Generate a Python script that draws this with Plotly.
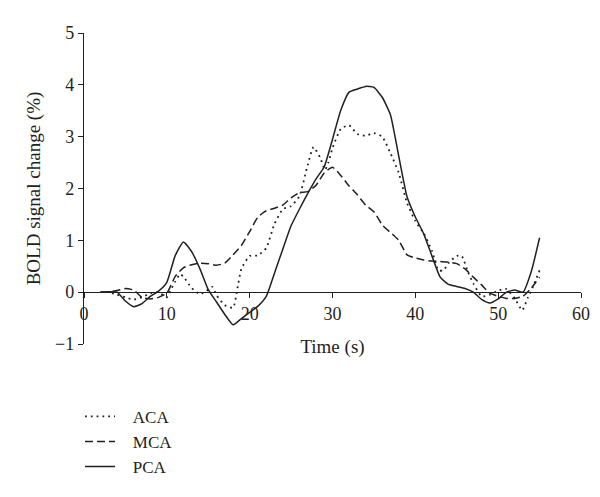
import plotly.graph_objects as go

# ---- data ----
pca_t = [2, 3, 4, 5, 6, 7, 8, 9, 10, 11, 12, 13, 14, 15, 16, 17, 18, 19, 20, 21, 22, 23, 24, 25,
         26, 27, 28, 29, 30, 31, 32, 33, 34, 35, 36, 37, 38, 39, 40, 41, 42, 43, 44, 45, 46, 47,
         48, 49, 50, 51, 52, 53, 54, 55]
pca_v = [0.0, 0.01, 0.0, -0.17, -0.28, -0.22, -0.08, 0.02, 0.19, 0.7, 0.97, 0.78, 0.45, 0.05,
         -0.19, -0.43, -0.63, -0.51, -0.39, -0.27, -0.08, 0.37, 0.83, 1.28, 1.6, 1.9, 2.18, 2.42,
         2.95, 3.51, 3.86, 3.92, 3.97, 3.95, 3.76, 3.42, 2.62, 1.84, 1.45, 1.13, 0.7, 0.29, 0.15,
         0.11, 0.07, 0.0, -0.14, -0.21, -0.13, 0.0, 0.04, 0.0, 0.4, 1.05]

mca_t = [2, 3, 4, 5, 6, 7, 8, 9, 10, 11, 12, 13, 14, 15, 16, 17, 18, 19, 20, 21, 22, 23, 24, 25,
         26, 27, 28, 29, 30, 31, 32, 33, 34, 35, 36, 37, 38, 39, 40, 41, 42, 43, 44, 45, 46, 47,
         48, 49, 50, 51, 52, 53, 54, 55]
mca_v = [0.0, 0.01, 0.03, 0.07, 0.04, -0.1, -0.13, -0.1, -0.02, 0.3, 0.47, 0.53, 0.56, 0.55,
         0.52, 0.56, 0.72, 0.9, 1.17, 1.45, 1.57, 1.62, 1.68, 1.82, 1.92, 1.94, 2.06, 2.3, 2.41,
         2.25, 2.05, 1.88, 1.68, 1.55, 1.3, 1.15, 1.0, 0.72, 0.66, 0.62, 0.6, 0.59, 0.58, 0.55,
         0.45, 0.29, 0.14, -0.02, -0.08, -0.12, -0.12, -0.08, 0.08, 0.29]

aca_t = [2, 3, 4, 5, 6, 7, 8, 9, 10, 10.5, 11, 11.6, 12, 13, 14, 15, 15.5, 16, 17, 18, 18.5, 19,
         20, 21, 22, 23, 24, 25, 26, 27, 27.7, 28.5, 29.1, 29.5, 30, 31, 32, 33, 34, 35, 36, 37,
         38, 39, 40, 41, 42, 42.8, 43.4, 44, 45, 45.6, 46.4, 47, 48, 49, 50, 51, 52, 52.9, 53.6,
         54.2, 55]
aca_v = [0.0, 0.0, -0.05, -0.1, -0.14, -0.1, -0.02, 0.0, -0.1, 0.05, 0.2, 0.35, 0.3, 0.08,
         -0.04, 0.05, 0.1, -0.06, -0.25, -0.3, 0.05, 0.45, 0.7, 0.71, 0.85, 1.32, 1.6, 1.66, 1.85,
         2.45, 2.8, 2.6, 2.36, 2.5, 2.78, 3.15, 3.22, 3.05, 3.02, 3.07, 3.0, 2.68, 2.3, 1.72, 1.37,
         1.14, 0.8, 0.42, 0.42, 0.56, 0.7, 0.7, 0.37, 0.17, -0.08, -0.05, 0.03, 0.06, -0.12, -0.35,
         -0.1, 0.1, 0.42]

x_ticks = [0, 10, 20, 30, 40, 50, 60]
y_ticks = [-1, 0, 1, 2, 3, 4, 5]
series_names = ["ACA", "MCA", "PCA"]

FONT = "Liberation Serif"
INK = "#231f20"
PAD = "\u00a0\u00a0\u00a0"

fig = go.Figure()
fig.add_trace(go.Scatter(x=aca_t, y=aca_v, mode="lines", name=PAD + series_names[0],
                         line=dict(color=INK, width=1.8, dash="1.8px,4px", shape="spline", smoothing=0.5)))
fig.add_trace(go.Scatter(x=mca_t, y=mca_v, mode="lines", name=PAD + series_names[1],
                         line=dict(color=INK, width=1.5, dash="8px,4px", shape="spline", smoothing=0.5)))
fig.add_trace(go.Scatter(x=pca_t, y=pca_v, mode="lines", name=PAD + series_names[2],
                         line=dict(color=INK, width=1.5, shape="spline", smoothing=0.5)))

fig.update_layout(
    width=600, height=497,
    margin=dict(l=84, r=19, t=33, b=153, autoexpand=False),
    paper_bgcolor="white", plot_bgcolor="white",
    font=dict(family=FONT, size=18, color=INK),
    showlegend=True,
    legend=dict(x=-0.008, y=-0.176, xanchor="left", yanchor="top",
                font=dict(family=FONT, size=17, color=INK),
                itemwidth=30, tracegroupgap=0, bgcolor="rgba(0,0,0,0)"),
    xaxis=dict(range=[0, 60], tickvals=x_ticks, ticktext=[str(v) for v in x_ticks],
               anchor="free", position=1/6, showline=True, linecolor=INK, linewidth=1.3,
               ticks="outside", ticklen=5, tickcolor=INK, tickwidth=1.3,
               tickfont=dict(family=FONT, size=18),
               showgrid=False, zeroline=False, automargin=False,
               title=dict(text="Time (s)", font=dict(family=FONT, size=19), standoff=16)),
    yaxis=dict(range=[-1, 5], tickvals=y_ticks, showline=True, linecolor=INK, linewidth=1.3,
               ticks="outside", ticklen=5, tickcolor=INK, tickwidth=1.3,
               tickfont=dict(family=FONT, size=18),
               showgrid=False, zeroline=False, automargin=False,
               title=dict(text="BOLD signal change (%)", font=dict(family=FONT, size=19), standoff=9)),
)

fig.write_html("out.html", config={"displayModeBar": False},
               post_script="document.body.style.margin='0';document.body.style.padding='0';")
